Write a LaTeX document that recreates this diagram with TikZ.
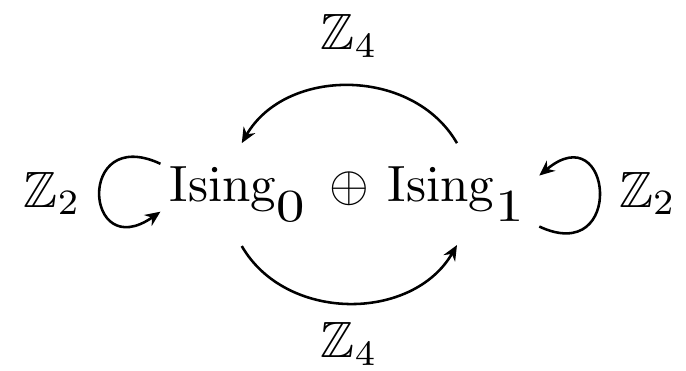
\documentclass[tikz,border=0pt]{standalone}
\usepackage{amsmath}
\usepackage{amssymb}
\usepackage{graphicx}
\usetikzlibrary{arrows.meta}

\newcommand{\isub}[1]{\raisebox{-1.5pt}{\scalebox{1.2}[1]{\small #1}}}

\begin{document}
\begin{tikzpicture}[
  x=1pt, y=1pt,
  ising/.style={anchor=base, inner xsep=2pt, inner ysep=4.4pt},
  grp/.style={anchor=base, inner sep=0pt},
  act/.style={-{Stealth[length=3pt, width=2.6pt]}, line width=0.5pt},
]
\useasboundingbox (-67.8,-33.2) rectangle (66.7,39.5);

% ---------- the sum ----------
\node[ising] (I0)   at (-21.0,0) {$\mathrm{Ising}_{\isub{0}}$};
\node[anchor=base] (plus) at (0.6,0)  {$\oplus$};
\node[ising] (I1)   at (21.8,0)  {$\mathrm{Ising}_{\isub{1}}$};

% ---------- swap: Z_4 ----------
\draw[act] (I1.north) to[out=120, in=60, looseness=1.05] ([xshift=0.6pt]I0.north);
\draw[act] ([xshift=0.6pt]I0.south) to[out=-60, in=-120, looseness=1.05] (I1.south);
\node[grp] (zt) at (0.7,29.7)  {$\mathbb{Z}_4$};
\node[grp] (zb) at (0.7,-30.6) {$\mathbb{Z}_4$};

% ---------- self maps: Z_2 ----------
\draw[act] ([xshift=0.4pt]I0.159) to[out=155, in=215, looseness=5] ([xshift=0.4pt]I0.192);
\draw[act] ([xshift=0.4pt]I1.-22) to[out=-25, in=40, looseness=4.8] ([xshift=0.4pt]I1.13);
\node[grp, anchor=base west] (zl) at (-63.3,-1.1) {$\mathbb{Z}_2$};
\node[grp, anchor=base west] (zr) at (53.4,-1.1)  {$\mathbb{Z}_2$};

\end{tikzpicture}
\end{document}
